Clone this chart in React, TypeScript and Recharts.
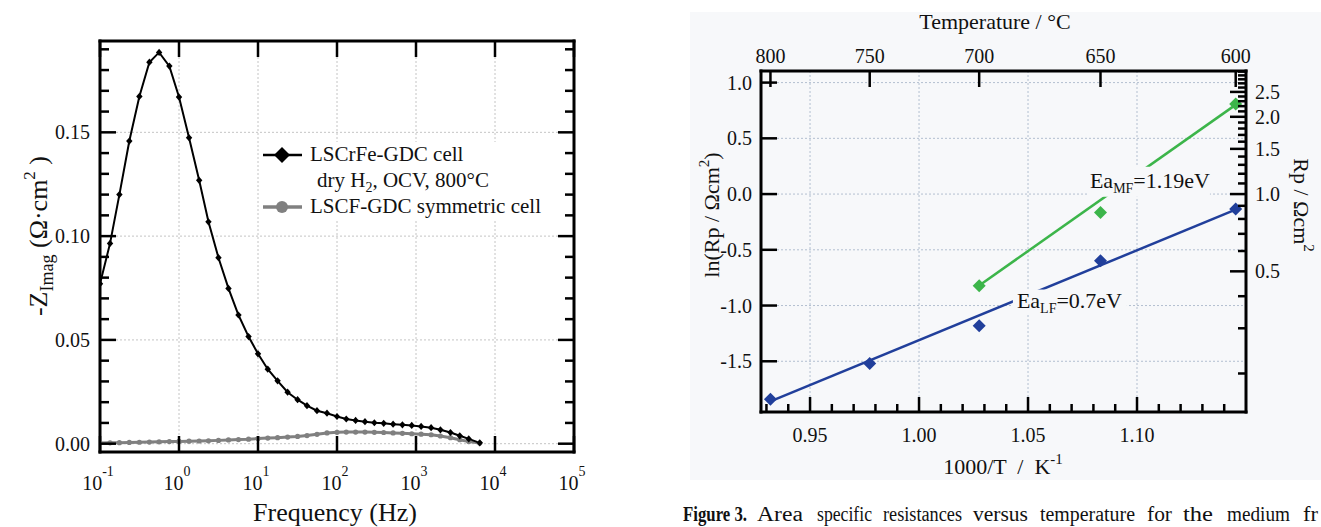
import React from 'react';
import { LineChart, ComposedChart, Line, XAxis, YAxis, CartesianGrid, Legend, ReferenceDot } from 'recharts';

const FONT = 'Liberation Serif, DejaVu Serif, serif';
const BG = '#f7f8fa';
const BLUE = '#213f9b';
const GREEN = '#3cb54a';
const GRAY = '#808080';

// ---- left panel: -Z'' vs frequency ----
const freqHz = [
  0.1, 0.134, 0.176, 0.235, 0.315, 0.422, 0.56, 0.755, 1.0, 1.34,
  1.8, 2.36, 3.16, 4.23, 5.66, 7.59, 10, 13.3, 17.7, 23.7,
  31.7, 41.7, 55.8, 74.7, 100, 131, 172, 226, 297, 390,
  513, 673, 883, 1161, 1553, 2037, 2729, 3580, 4653, 6412,
];
const zLSCrFe = [
  0.077, 0.0965, 0.12, 0.1458, 0.1673, 0.1838, 0.1885, 0.1819, 0.167, 0.1474,
  0.1269, 0.1069, 0.0896, 0.0748, 0.062, 0.0516, 0.0433, 0.0359, 0.0303, 0.0248,
  0.0212, 0.0183, 0.0159, 0.0147, 0.0131, 0.0119, 0.0112, 0.0106, 0.0101, 0.0098,
  0.0094, 0.0091, 0.0088, 0.0083, 0.0077, 0.0067, 0.0054, 0.0038, 0.0023, 0.0004,
];
const zLSCF = [
  0.0003, 0.0004, 0.0005, 0.0006, 0.0007, 0.0008, 0.0009, 0.001, 0.0011, 0.0012,
  0.0013, 0.0014, 0.0016, 0.0018, 0.002, 0.0022, 0.0025, 0.0027, 0.0029, 0.0032,
  0.0035, 0.0039, 0.0045, 0.0052, 0.0055, 0.0056, 0.0056, 0.0056, 0.0055, 0.0054,
  0.0052, 0.005, 0.0048, 0.0046, 0.0043, 0.0037, 0.0029, 0.0019, 0.001, 0.0003,
];
const freqTicks = [0.1, 1, 10, 100, 1000, 10000, 100000];
const zTicks = Array.from({ length: 20 }, (_, i) => i / 100);
const zMajor = [0, 0.05, 0.1, 0.15];

// ---- right panel: Arrhenius plot ----
const tempC = [800, 750, 700, 650, 600];
const lnRpLF = [-1.84, -1.521, -1.182, -0.599, -0.135];
const tempMF = [700, 650, 600];
const lnRpMF = [-0.823, -0.165, 0.808];
const fitLF = { x: [0.9318, 1.1452], y: [-1.86, -0.14] };
const fitMF = { x: [1.0276, 1.1452], y: [-0.82, 0.8] };
const invTTicks = Array.from({ length: 22 }, (_, i) => 0.93 + i / 100);
const lnTicks = [-1.5, -1, -0.5, 0, 0.5, 1];
const rpTicks = Array.from({ length: 29 }, (_, i) => Math.round((0.2 + i * 0.1) * 10) / 10);
const rpMajor = [0.5, 1, 1.5, 2, 2.5];

const invT = (t: number) => 1000 / (t + 273.15);
const X_DOM = [0.9275, 1.15];
const LN_DOM = [-1.955, 1.104];
const RP_DOM = [Math.exp(LN_DOM[0]), Math.exp(LN_DOM[1])];

const eisBlack = freqHz.map((x, i) => ({ x, y: zLSCrFe[i] }));
const eisGray = freqHz.map((x, i) => ({ x, y: zLSCF[i] }));
const lfPoints = tempC.map((t, i) => ({ x: invT(t), y: lnRpLF[i] }));
const mfPoints = tempMF.map((t, i) => ({ x: invT(t), y: Math.exp(lnRpMF[i]) }));
const lfFit = fitLF.x.map((x, i) => ({ x, y: fitLF.y[i] }));
const mfFit = fitMF.x.map((x, i) => ({ x, y: fitMF.y[i] }));

type Side = 'left' | 'right' | 'top' | 'bottom';

// ticks drawn inward from the frame, label outside
function inwardTick(
  side: Side,
  gap: number,
  isMajor: (v: number) => boolean,
  label?: (v: number, x: number, y: number) => React.ReactNode,
  lens = [16, 9],
) {
  return (props: any) => {
    const { x, y, payload } = props;
    const v = payload.value;
    const major = isMajor(v);
    const len = major ? lens[0] : lens[1];
    let x1 = x, y1 = y, x2 = x, y2 = y;
    if (side === 'left') { x1 = x + gap; x2 = x1 + len; }
    if (side === 'right') { x1 = x - gap; x2 = x1 - len; }
    if (side === 'bottom') { y1 = y - gap; y2 = y1 - len; }
    if (side === 'top') { y1 = y + gap; y2 = y1 + len; }
    return (
      <g>
        <line x1={x1} y1={y1} x2={x2} y2={y2} stroke="#000" strokeWidth={2.5} />
        {major && label ? label(v, x, y) : null}
      </g>
    );
  };
}

const txt = { style: { fontFamily: FONT }, fontSize: 20, fill: '#111' };

const diamond = (fill: string, w: number, h: number) => (p: any) => {
  const { cx, cy, index } = p;
  if (cx == null || cy == null) return <g key={index} />;
  return <path key={index} d={`M${cx},${cy - h}L${cx + w},${cy}L${cx},${cy + h}L${cx - w},${cy}Z`} fill={fill} />;
};
const circle = (fill: string, r: number) => (p: any) => {
  const { cx, cy, index } = p;
  if (cx == null || cy == null) return <g key={index} />;
  return <circle key={index} cx={cx} cy={cy} r={r} fill={fill} />;
};

const near = (list: number[]) => (v: number) => list.some((m) => Math.abs(m - v) < 1e-6);
const frame = { stroke: '#000', strokeWidth: 3, strokeLinecap: 'square' as const };

function EisLegend() {
  return (
    <div style={{ background: '#fff', width: 285, height: 78 }}>
      <svg width={285} height={78}>
        <line x1={1} y1={13} x2={40} y2={13} stroke="#000" strokeWidth={2.5} />
        <path d="M20,5L28,13L20,21L12,13Z" fill="#000" />
        <text x={48} y={19} {...txt} fontSize={21}>LSCrFe-GDC cell</text>
        <text x={55} y={45} {...txt} fontSize={21}>
          dry H<tspan fontSize={14} dy={5}>2</tspan><tspan dy={-5}>, OCV, 800°C</tspan>
        </text>
        <line x1={1} y1={65} x2={40} y2={65} stroke={GRAY} strokeWidth={3.5} />
        <circle cx={20} cy={65} r={6} fill={GRAY} />
        <text x={48} y={71} {...txt} fontSize={21}>LSCF-GDC symmetric cell</text>
      </svg>
    </div>
  );
}

function EisChart() {
  return (
    <LineChart width={640} height={527} margin={{ top: 31, right: 56, bottom: 25, left: 40 }}>
      <CartesianGrid
        stroke="#c4c4c4"
        strokeDasharray="2 2"
        horizontalValues={zMajor}
        verticalValues={freqTicks}
      />
      <XAxis
        dataKey="x"
        type="number"
        scale="log"
        domain={[0.1, 100000]}
        allowDataOverflow
        ticks={freqTicks}
        interval={0}
        height={50}
        tickSize={0}
        tickMargin={10}
        axisLine={frame}
        tick={inwardTick('bottom', 10, () => true, (v, x, y) => (
          <text x={x - 2} y={y + 28} textAnchor="middle" {...txt}>
            10<tspan fontSize={14} dy={-14}>{Math.round(Math.log10(v))}</tspan>
          </text>
        ))}
      />
      <XAxis
        xAxisId="top"
        orientation="top"
        dataKey="x"
        type="number"
        scale="log"
        domain={[0.1, 100000]}
        allowDataOverflow
        ticks={freqTicks}
        interval={0}
        height={10}
        tickSize={0}
        tickMargin={0}
        axisLine={frame}
        tick={inwardTick('top', 0, () => true)}
      />
      <YAxis
        type="number"
        domain={[-0.004, 0.194]}
        allowDataOverflow
        ticks={zTicks}
        interval={0}
        width={60}
        tickSize={0}
        tickMargin={10}
        axisLine={frame}
        tick={inwardTick('left', 10, near(zMajor), (v, x, y) => (
          <text x={x} y={y + 7} textAnchor="end" {...txt}>{v.toFixed(2)}</text>
        ))}
      />
      <YAxis
        yAxisId="right"
        orientation="right"
        type="number"
        domain={[-0.004, 0.194]}
        allowDataOverflow
        ticks={zTicks}
        interval={0}
        width={10}
        tickSize={0}
        tickMargin={0}
        axisLine={frame}
        tick={inwardTick('right', 0, near(zMajor))}
      />
      <Line
        data={eisGray}
        xAxisId="top"
        yAxisId="right"
        dataKey="y"
        stroke={GRAY}
        strokeWidth={3}
        dot={circle(GRAY, 2.6)}
        activeDot={false}
        isAnimationActive={false}
      />
      <Line
        data={eisBlack}
        dataKey="y"
        stroke="#000"
        strokeWidth={2}
        dot={diamond('#000', 3.2, 3.6)}
        activeDot={false}
        isAnimationActive={false}
      />
      <Legend
        layout="vertical"
        align="center"
        verticalAlign="middle"
        wrapperStyle={{ left: 262, top: 142, width: 285, height: 78 }}
        content={() => <EisLegend />}
      />
    </LineChart>
  );
}

const eaLabel = (sub: string, val: string, box: { l: number; t: number; w: number; h: number }) => (p: any) => (
  <g>
    <rect x={p.cx + box.l} y={p.cy + box.t} width={box.w} height={box.h} fill={BG} />
    <text x={p.cx} y={p.cy} {...txt} fontSize={22}>
      Ea<tspan fontSize={14} dy={5}>{sub}</tspan><tspan dy={-5}>{val}</tspan>
    </text>
  </g>
);

function ArrheniusChart() {
  return (
    <ComposedChart width={641} height={527} margin={{ top: 31, right: 25, bottom: 75, left: 31 }}>
      <CartesianGrid
        stroke="#b3bfd0"
        strokeDasharray="2 2"
        horizontalValues={lnTicks}
        verticalValues={[0.95, 1.0, 1.05, 1.1]}
      />
      <XAxis
        dataKey="x"
        type="number"
        domain={X_DOM}
        allowDataOverflow
        ticks={invTTicks}
        interval={0}
        height={40}
        tickSize={0}
        tickMargin={8}
        axisLine={frame}
        tick={inwardTick('bottom', 8, (v) => Math.round(v * 100) % 5 === 0, (v, x, y) => (
          <text x={x} y={y + 22} textAnchor="middle" {...txt}>{v.toFixed(2)}</text>
        ), [15, 8])}
      />
      <XAxis
        xAxisId="top"
        orientation="top"
        dataKey="x"
        type="number"
        domain={X_DOM}
        allowDataOverflow
        ticks={tempC.map(invT)}
        interval={0}
        height={40}
        tickSize={0}
        tickMargin={8}
        axisLine={frame}
        tick={inwardTick('top', 8, () => true, (v, x, y) => (
          <text x={x} y={y} textAnchor="middle" {...txt}>{Math.round(1000 / v - 273.15)}</text>
        ))}
      />
      <YAxis
        type="number"
        domain={LN_DOM}
        allowDataOverflow
        ticks={lnTicks}
        interval={0}
        width={50}
        tickSize={0}
        tickMargin={9}
        axisLine={frame}
        tick={inwardTick('left', 9, () => true, (v, x, y) => (
          <text x={x} y={y + 7} textAnchor="end" {...txt}>{v.toFixed(1)}</text>
        ))}
      />
      <YAxis
        yAxisId="rp"
        orientation="right"
        type="number"
        scale="log"
        domain={RP_DOM}
        allowDataOverflow
        ticks={rpTicks}
        interval={0}
        width={50}
        tickSize={0}
        tickMargin={9}
        axisLine={frame}
        tick={inwardTick('right', 9, near(rpMajor), (v, x, y) => (
          <text x={x} y={y + 7} textAnchor="start" {...txt}>{v.toFixed(1)}</text>
        ), [16, 8])}
      />
      <Line data={lfFit} dataKey="y" stroke={BLUE} strokeWidth={2.5} dot={false} activeDot={false} isAnimationActive={false} />
      <Line data={mfFit} dataKey="y" stroke={GREEN} strokeWidth={2.5} dot={false} activeDot={false} isAnimationActive={false} />
      <ReferenceDot x={1.0784} y={0.0566} r={1} shape={eaLabel('MF', '=1.19eV', { l: -2, t: -21, w: 122, h: 30 })} />
      <ReferenceDot x={1.0449} y={-1.018} r={1} shape={eaLabel('LF', '=0.7eV', { l: -4, t: -18, w: 114, h: 25 })} />
      <Line data={lfPoints} dataKey="y" stroke="none" dot={diamond(BLUE, 6.5, 6.5)} activeDot={false} isAnimationActive={false} />
      <Line
        data={mfPoints}
        xAxisId="top"
        yAxisId="rp"
        dataKey="y"
        stroke="none"
        dot={diamond(GREEN, 6.5, 6.5)}
        activeDot={false}
        isAnimationActive={false}
      />
    </ComposedChart>
  );
}

const captionWords: [string, number, number][] = [
  ['Area', 757, 46],
  ['specific', 817, 55],
  ['resistances', 883, 79],
  ['versus', 973, 55],
  ['temperature', 1040, 95],
  ['for', 1147, 25],
  ['the', 1183, 30],
  ['medium', 1227, 63],
  ['fr', 1303, 15],
];

export default function App() {
  return (
    <div style={{ position: 'fixed', left: 0, top: 0, width: 1321, height: 527, background: '#fff', overflow: 'hidden' }}>
      <div style={{ position: 'absolute', left: 690, top: 12, width: 631, height: 468, background: BG }} />
      <div style={{ position: 'absolute', left: 0, top: 0 }}>
        <EisChart />
      </div>
      <div style={{ position: 'absolute', left: 680, top: 0 }}>
        <ArrheniusChart />
      </div>
      <svg width={1321} height={527} style={{ position: 'absolute', left: 0, top: 0, pointerEvents: 'none' }}>
        {/* left panel titles */}
        <text transform="translate(47,236) rotate(-90)" textAnchor="middle" {...txt} fontSize={26}>
          -Z<tspan fontSize={18} dy={6}>Imag</tspan><tspan dy={-6}> (Ω·cm</tspan>
          <tspan fontSize={17} dy={-12}>2</tspan><tspan dy={12}> )</tspan>
        </text>
        <text x={335} y={521} textAnchor="middle" {...txt} fontSize={26}>Frequency (Hz)</text>

        {/* right panel titles */}
        <text x={995} y={29} textAnchor="middle" {...txt} fontSize={22}>Temperature / °C</text>
        <text transform="translate(719,215) rotate(-90)" textAnchor="middle" {...txt} fontSize={22}>
          ln(Rp / Ωcm<tspan fontSize={15} dy={-10}>2</tspan><tspan dy={10}>)</tspan>
        </text>
        <text transform="translate(1294,205) rotate(90)" textAnchor="middle" {...txt} fontSize={22}>
          Rp / Ωcm<tspan fontSize={15} dy={-10}>2</tspan>
        </text>
        <text x={1003} y={474} textAnchor="middle" {...txt} fontSize={22} xmlSpace="preserve">
          {'1000/T  /  K'}<tspan fontSize={15} dy={-10}>-1</tspan>
        </text>

        {/* caption */}
        <text x={683} y={521} {...txt} fontWeight="bold" textLength={64} lengthAdjust="spacingAndGlyphs">Figure 3.</text>
        {captionWords.map(([w, x, len]) => (
          <text key={w} x={x} y={521} {...txt} textLength={len} lengthAdjust="spacingAndGlyphs">{w}</text>
        ))}
      </svg>
    </div>
  );
}
